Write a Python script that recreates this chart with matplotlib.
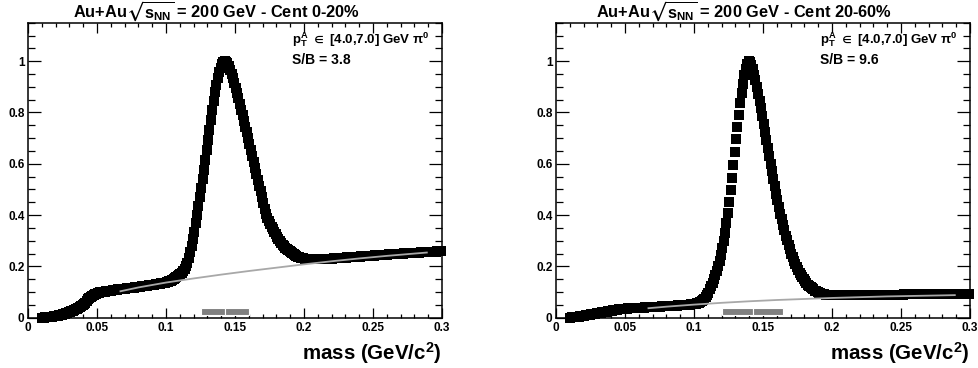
import numpy as np
import matplotlib
matplotlib.use("Agg")
import matplotlib.pyplot as plt

plt.rcParams['font.family'] = ['Liberation Sans', 'DejaVu Sans']
plt.rcParams['font.weight'] = 'bold'
plt.rcParams['mathtext.fontset'] = 'custom'
plt.rcParams['mathtext.rm'] = 'Liberation Sans:bold'
plt.rcParams['mathtext.it'] = 'Liberation Sans:bold'
plt.rcParams['mathtext.bf'] = 'Liberation Sans:bold'
plt.rcParams['mathtext.sf'] = 'Liberation Sans:bold'
plt.rcParams['mathtext.fallback'] = 'stixsans'

# ---------------- data ----------------
bin_lo = 0.010
bin_width = 0.001
n_bins = 290

yield_cent0_20 = [
    0.000, 0.000, 0.001, 0.001, 0.002, 0.002, 0.003, 0.004, 0.005, 0.006,
    0.007, 0.008, 0.009, 0.011, 0.012, 0.014, 0.015, 0.017, 0.019, 0.021,
    0.023, 0.025, 0.027, 0.030, 0.032, 0.035, 0.038, 0.041, 0.045, 0.049,
    0.054, 0.059, 0.065, 0.071, 0.077, 0.082, 0.086, 0.089, 0.092, 0.094,
    0.096, 0.098, 0.099, 0.100, 0.101, 0.102, 0.103, 0.104, 0.105, 0.106,
    0.106, 0.107, 0.108, 0.108, 0.109, 0.110, 0.110, 0.111, 0.112, 0.112,
    0.113, 0.114, 0.115, 0.115, 0.116, 0.117, 0.117, 0.118, 0.119, 0.120,
    0.120, 0.121, 0.122, 0.123, 0.124, 0.124, 0.125, 0.126, 0.127, 0.128,
    0.128, 0.129, 0.130, 0.131, 0.132, 0.133, 0.134, 0.135, 0.136, 0.137,
    0.139, 0.141, 0.143, 0.145, 0.148, 0.151, 0.154, 0.158, 0.162, 0.166,
    0.170, 0.176, 0.183, 0.191, 0.200, 0.215, 0.234, 0.256, 0.280, 0.306,
    0.336, 0.368, 0.402, 0.437, 0.470, 0.505, 0.540, 0.577, 0.615, 0.653,
    0.692, 0.731, 0.770, 0.808, 0.845, 0.878, 0.908, 0.934, 0.956, 0.974,
    0.988, 0.997, 1.000, 0.998, 0.991, 0.980, 0.966, 0.950, 0.933, 0.915,
    0.896, 0.876, 0.855, 0.833, 0.811, 0.789, 0.766, 0.745, 0.722, 0.699,
    0.676, 0.653, 0.630, 0.607, 0.584, 0.561, 0.538, 0.515, 0.492, 0.469,
    0.446, 0.424, 0.403, 0.388, 0.376, 0.365, 0.354, 0.344, 0.334, 0.325,
    0.316, 0.308, 0.300, 0.292, 0.285, 0.279, 0.273, 0.268, 0.263, 0.259,
    0.255, 0.251, 0.247, 0.244, 0.241, 0.238, 0.236, 0.234, 0.232, 0.231,
    0.230, 0.229, 0.228, 0.228, 0.227, 0.227, 0.227, 0.227, 0.227, 0.227,
    0.227, 0.227, 0.228, 0.228, 0.228, 0.229, 0.229, 0.229, 0.230, 0.230,
    0.230, 0.231, 0.231, 0.231, 0.232, 0.232, 0.233, 0.233, 0.233, 0.234,
    0.234, 0.235, 0.235, 0.235, 0.236, 0.236, 0.237, 0.237, 0.237, 0.238,
    0.238, 0.239, 0.239, 0.239, 0.240, 0.240, 0.241, 0.241, 0.241, 0.242,
    0.242, 0.243, 0.243, 0.243, 0.244, 0.244, 0.245, 0.245, 0.245, 0.246,
    0.246, 0.247, 0.247, 0.247, 0.248, 0.248, 0.249, 0.249, 0.249, 0.250,
    0.250, 0.250, 0.251, 0.251, 0.251, 0.252, 0.252, 0.252, 0.253, 0.253,
    0.253, 0.254, 0.254, 0.254, 0.255, 0.255, 0.255, 0.256, 0.256, 0.256,
    0.257, 0.257, 0.257, 0.258, 0.258, 0.258, 0.259, 0.259, 0.259, 0.260,
]

yield_cent20_60 = [
    0.000, 0.001, 0.001, 0.002, 0.003, 0.003, 0.004, 0.005, 0.006, 0.007,
    0.008, 0.009, 0.010, 0.011, 0.012, 0.013, 0.014, 0.015, 0.016, 0.017,
    0.018, 0.019, 0.020, 0.021, 0.022, 0.023, 0.024, 0.025, 0.026, 0.027,
    0.028, 0.029, 0.030, 0.031, 0.031, 0.032, 0.033, 0.033, 0.034, 0.034,
    0.035, 0.035, 0.036, 0.036, 0.036, 0.037, 0.037, 0.037, 0.038, 0.038,
    0.038, 0.039, 0.039, 0.039, 0.040, 0.040, 0.040, 0.041, 0.041, 0.041,
    0.042, 0.042, 0.042, 0.043, 0.043, 0.043, 0.044, 0.044, 0.044, 0.045,
    0.045, 0.045, 0.046, 0.046, 0.046, 0.047, 0.047, 0.047, 0.048, 0.048,
    0.048, 0.049, 0.049, 0.050, 0.050, 0.051, 0.051, 0.052, 0.052, 0.053,
    0.053, 0.055, 0.057, 0.059, 0.062, 0.065, 0.069, 0.074, 0.080, 0.088,
    0.098, 0.110, 0.124, 0.137, 0.150, 0.165, 0.182, 0.200, 0.222, 0.246,
    0.272, 0.300, 0.332, 0.368, 0.408, 0.452, 0.498, 0.546, 0.596, 0.646,
    0.696, 0.745, 0.792, 0.836, 0.875, 0.910, 0.945, 0.970, 0.990, 1.000,
    0.996, 0.985, 0.968, 0.948, 0.925, 0.900, 0.873, 0.845, 0.816, 0.786,
    0.756, 0.725, 0.694, 0.663, 0.632, 0.601, 0.571, 0.541, 0.512, 0.484,
    0.457, 0.431, 0.406, 0.383, 0.361, 0.340, 0.320, 0.301, 0.283, 0.266,
    0.250, 0.235, 0.221, 0.208, 0.196, 0.185, 0.175, 0.166, 0.157, 0.149,
    0.142, 0.135, 0.129, 0.123, 0.118, 0.114, 0.110, 0.106, 0.103, 0.100,
    0.098, 0.096, 0.094, 0.092, 0.091, 0.090, 0.089, 0.088, 0.088, 0.087,
    0.087, 0.087, 0.087, 0.087, 0.087, 0.087, 0.087, 0.087, 0.087, 0.087,
    0.087, 0.087, 0.087, 0.087, 0.088, 0.088, 0.088, 0.088, 0.088, 0.088,
    0.088, 0.088, 0.088, 0.088, 0.088, 0.088, 0.088, 0.088, 0.089, 0.089,
    0.089, 0.089, 0.089, 0.089, 0.089, 0.089, 0.089, 0.089, 0.089, 0.090,
    0.090, 0.090, 0.090, 0.090, 0.090, 0.090, 0.090, 0.090, 0.090, 0.090,
    0.090, 0.090, 0.091, 0.091, 0.091, 0.091, 0.091, 0.091, 0.091, 0.091,
    0.091, 0.092, 0.092, 0.092, 0.092, 0.092, 0.092, 0.092, 0.092, 0.092,
    0.093, 0.093, 0.093, 0.093, 0.093, 0.093, 0.093, 0.093, 0.093, 0.093,
    0.094, 0.094, 0.094, 0.094, 0.094, 0.094, 0.094, 0.094, 0.094, 0.094,
    0.094, 0.094, 0.094, 0.094, 0.094, 0.094, 0.094, 0.094, 0.094, 0.094,
]

bkg_mass = [0.067, 0.080, 0.100, 0.120, 0.140, 0.160, 0.180, 0.200, 0.220, 0.240, 0.260, 0.280, 0.289]
bkg_cent0_20 = [0.103, 0.118, 0.137, 0.153, 0.168, 0.182, 0.195, 0.208, 0.220, 0.231, 0.241, 0.250, 0.254]
bkg_cent20_60 = [0.037, 0.043, 0.051, 0.058, 0.064, 0.069, 0.073, 0.077, 0.080, 0.083, 0.085, 0.087, 0.088]

window_cent0_20 = [0.125, 0.1425, 0.160]
window_cent20_60 = [0.1205, 0.1425, 0.1647]
window_lo, window_hi = 0.0105, 0.0367

titles = [r'Au+Au$\sqrt{s_{NN}}$ = 200 GeV - Cent 0-20%',
          r'Au+Au$\sqrt{s_{NN}}$ = 200 GeV - Cent 20-60%']
sb_labels = ['S/B = 3.8', 'S/B = 9.6']
pt_label = r'p$_{T}^{A}$ ${\in}$ [4.0,7.0] GeV π$^{0}$'
xlabel = r'mass (GeV/c$^{2}$)'
xticks = [0, 0.05, 0.1, 0.15, 0.2, 0.25, 0.3]
xticklabels = ['0', '0.05', '0.1', '0.15', '0.2', '0.25', '0.3']
yticks = [0, 0.2, 0.4, 0.6, 0.8, 1.0]
yticklabels = ['0', '0.2', '0.4', '0.6', '0.8', '1']

# ---------------- figure ----------------
fig = plt.figure(figsize=(9.79, 3.68), dpi=100)
W, H = 979, 368
ax_bottom_px, ax_h_px, ax_w_px = 50.3, 295.0, 414.0
axes = [fig.add_axes([28 / W, ax_bottom_px / H, ax_w_px / W, ax_h_px / H]),
        fig.add_axes([556 / W, ax_bottom_px / H, ax_w_px / W, ax_h_px / H])]

mass = bin_lo + bin_width * (np.arange(n_bins) + 0.5)
series = [yield_cent0_20, yield_cent20_60]
bkgs = [bkg_cent0_20, bkg_cent20_60]
windows = [window_cent0_20, window_cent20_60]

for ax, y, bkg, win, title, sb in zip(axes, series, bkgs, windows, titles, sb_labels):
    ax.set_xlim(0, 0.3)
    ax.set_ylim(0, 1.15)
    ax.plot(mass, y, linestyle='none', marker='s', markersize=7.4,
            markerfacecolor='black', markeredgewidth=0, clip_on=False, zorder=3)
    ax.plot(bkg_mass, bkg, color='#a8a8a8', linewidth=1.3, zorder=4)
    edges = np.array(win)
    ax.bar(edges[:-1], window_hi - window_lo, width=np.diff(edges), bottom=window_lo,
           align='edge', color='#808080', edgecolor='white', linewidth=0.8, zorder=2)

    ax.set_xticks(xticks)
    ax.set_xticklabels(xticklabels)
    ax.set_yticks(yticks)
    ax.set_yticklabels(yticklabels)
    ax.set_xticks(np.arange(0, 0.3001, 0.01), minor=True)
    ax.set_yticks(np.arange(0, 1.1501, 0.05), minor=True)
    ax.tick_params(which='both', direction='in', top=True, right=True,
                   labelsize=8.5, width=0.9)
    ax.tick_params(axis='x', which='major', length=7, pad=3)
    ax.tick_params(axis='x', which='minor', length=3.2)
    ax.tick_params(axis='y', which='major', length=9.5, pad=2.5)
    ax.tick_params(axis='y', which='minor', length=4.8)
    for lab in ax.get_xticklabels() + ax.get_yticklabels():
        lab.set_fontweight('bold')
    for sp in ax.spines.values():
        sp.set_linewidth(1.1)

    ax.text(0.455, 1.018, title, transform=ax.transAxes, ha='center', va='baseline',
            fontsize=11.8, fontweight='bold')
    ax.text(0.637, 0.93, pt_label, transform=ax.transAxes, ha='left', va='baseline',
            fontsize=9.5, fontweight='bold')
    ax.text(0.637, 0.86, sb, transform=ax.transAxes, ha='left', va='baseline',
            fontsize=10, fontweight='bold')
    ax.text(1.0, -0.143, xlabel, transform=ax.transAxes, ha='right', va='baseline',
            fontsize=14.8, fontweight='bold')

fig.savefig('out.png', dpi=100)
